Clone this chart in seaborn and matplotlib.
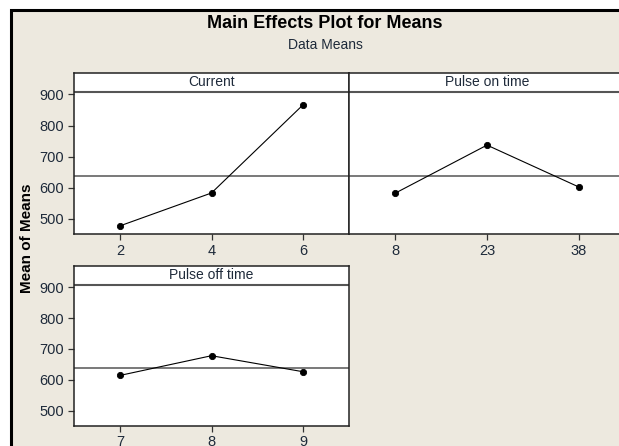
import numpy as np
import pandas as pd
import seaborn as sns
import matplotlib.pyplot as plt
from matplotlib.patches import Rectangle

# Data
factors = ['Current', 'Pulse on time', 'Pulse off time']
current_levels = ['2', '4', '6']
current_means = [477, 583, 867]
pulse_on_levels = ['8', '23', '38']
pulse_on_means = [582, 737, 602]
pulse_off_levels = ['7', '8', '9']
pulse_off_means = [614, 678, 626]
grand_mean = 639

sns.set_theme(style='white')
plt.rcParams['font.family'] = ['Liberation Sans', 'DejaVu Sans']

W, H = 619, 446
fig = plt.figure(figsize=(W / 100, H / 100), dpi=100)
fig.patch.set_facecolor('white')

# beige page with black frame on top/left
bg = '#EDE9DF'
fig.patches.append(Rectangle((11 / W, -0.1), 1.2, 1 - 10 / H + 0.1, transform=fig.transFigure,
                             facecolor=bg, edgecolor='black', linewidth=2.2, zorder=-5))


def px_axes(left, right, top, bottom):
    return fig.add_axes([left / W, 1 - bottom / H, (right - left) / W, (bottom - top) / H])


ax1 = px_axes(74, 349, 72.7, 234)
ax2 = px_axes(349, 625, 72.7, 234)
ax3 = px_axes(74, 349, 265.7, 425.7)

panels = [
    (ax1, factors[0], current_levels, current_means),
    (ax2, factors[1], pulse_on_levels, pulse_on_means),
    (ax3, factors[2], pulse_off_levels, pulse_off_means),
]

text_col = '#1e2a3a'
for ax, name, levels, means in panels:
    df = pd.DataFrame({'level': levels, 'mean': means})
    ax.set_facecolor('white')
    ax.axhline(grand_mean, color='#555555', lw=1.1, zorder=1)
    sns.pointplot(data=df, x='level', y='mean', order=levels, color='black',
                  markers='o', markersize=4.5, linewidth=0.8, ax=ax, zorder=3)
    ax.set_xlim(-0.5, 2.5)
    ax.set_ylim(451, 970)
    # strip header
    ax.axhline(908, color='#555555', lw=1.5, zorder=2)
    ax.text(0.5, 0.94, name, transform=ax.transAxes, ha='center', va='center',
            fontsize=10, color=text_col)
    ax.set_xlabel('')
    ax.set_ylabel('')
    for s in ax.spines.values():
        s.set_color('#222222')
        s.set_linewidth(1.1)
    ax.tick_params(axis='both', direction='out', length=4, width=0.9, color='#333333',
                   labelsize=10.5, labelcolor=text_col, pad=3)
    ax.tick_params(axis='x', bottom=True)
    ax.tick_params(axis='y', left=True)
    ax.set_yticks([500, 600, 700, 800, 900])

ax2.tick_params(axis='y', left=False, labelleft=False)

fig.text(325 / W, 1 - 24 / H, 'Main Effects Plot for Means', ha='center', va='center',
         fontsize=13, fontweight='bold', color='black')
fig.text(325 / W, 1 - 45 / H, 'Data Means', ha='center', va='center',
         fontsize=10, color=text_col)
fig.text(27 / W, 1 - 238 / H, 'Mean of Means', ha='center', va='center', rotation=90,
         fontsize=11, fontweight='bold', color='black')

fig.savefig('out.png', dpi=100, facecolor=fig.get_facecolor())
